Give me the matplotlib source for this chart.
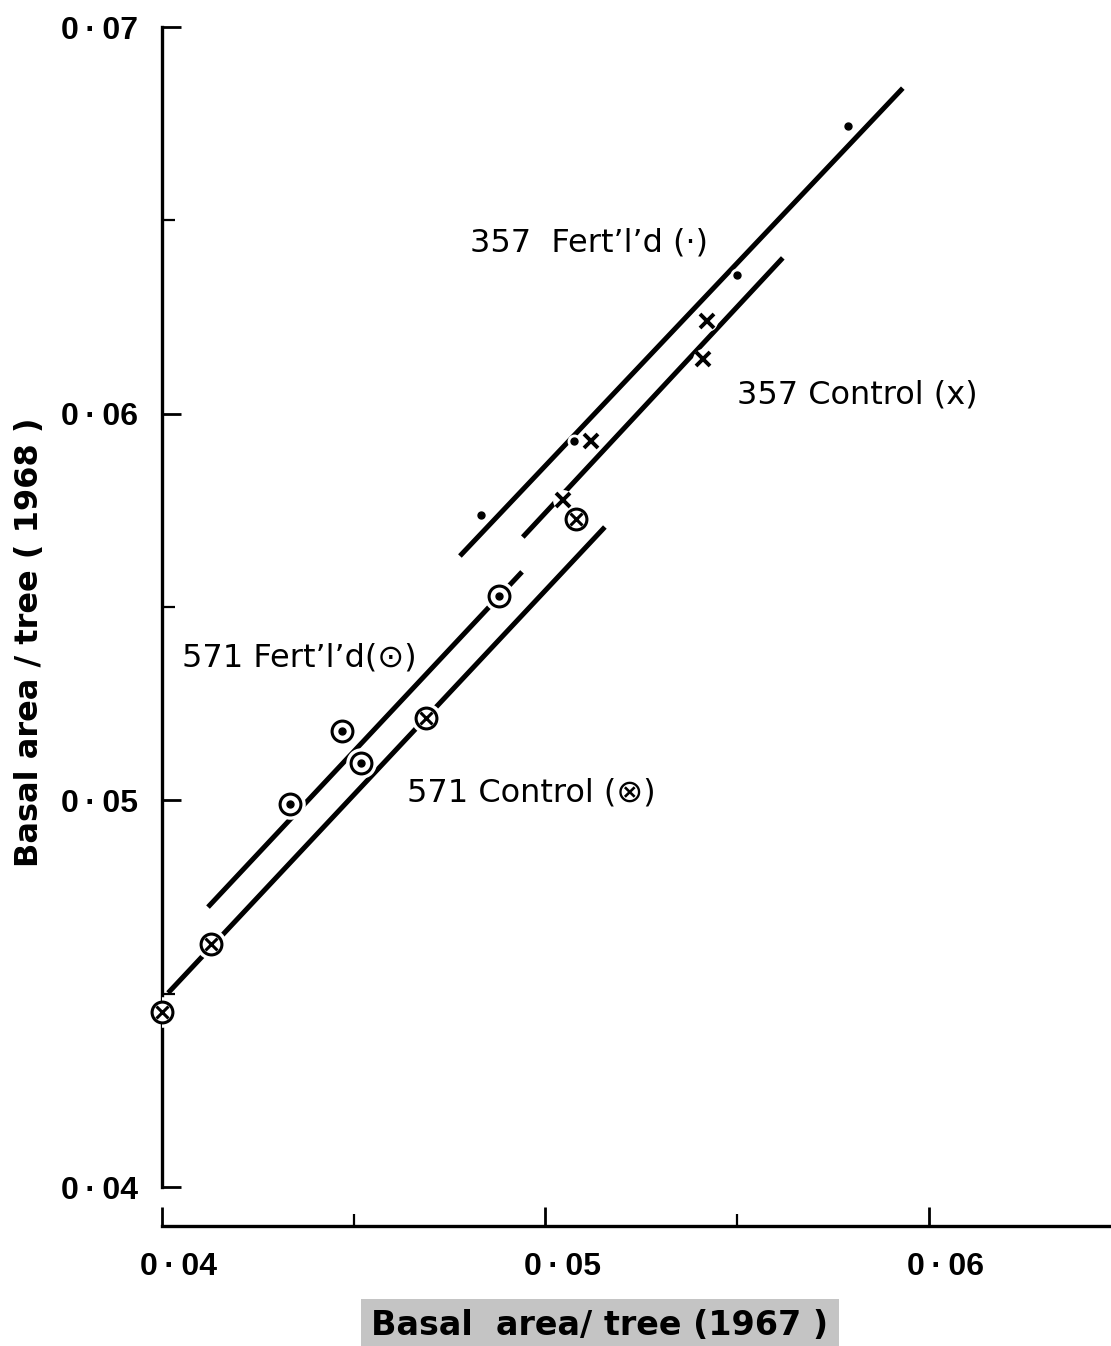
import numpy as np
import matplotlib
matplotlib.use("Agg")
import matplotlib.pyplot as plt
from matplotlib.ticker import FixedLocator, FuncFormatter
from matplotlib.transforms import ScaledTranslation

plt.rcParams['font.family'] = ['Liberation Sans', 'DejaVu Sans']

# basal area per tree, 1967 (x) vs 1968 (y)
fert357_x = [0.04832, 0.05074, 0.05499, 0.05789]
fert357_y = [0.05738, 0.05929, 0.06359, 0.06744]

ctrl357_x = [0.05046, 0.05119, 0.05411, 0.05421]
ctrl357_y = [0.05777, 0.05929, 0.06141, 0.06240]

fert571_x = [0.04334, 0.04469, 0.04519, 0.04879]
fert571_y = [0.04991, 0.05179, 0.05097, 0.05528]

ctrl571_x = [0.04000, 0.04128, 0.04688, 0.05080]
ctrl571_y = [0.04453, 0.04628, 0.05213, 0.05728]

# fitted regression lines (end points)
fit357f_x = [0.04777, 0.05932]
fit357f_y = [0.05632, 0.06842]
fit357c_x = [0.04941, 0.05619]
fit357c_y = [0.05681, 0.06403]
fit571f_x = [0.04120, 0.04939]
fit571f_y = [0.04724, 0.05591]
fit571c_x = [0.04016, 0.05155]
fit571c_y = [0.04502, 0.05707]

fig = plt.figure(figsize=(11.11, 13.46), dpi=100)
ax = fig.add_axes([0.1458, 0.1181, 0.8542, 0.8618])
ax.set_xlim(0.04, 0.06475)
ax.set_ylim(0.04, 0.07)

lw = 3.6
for fx, fy in [(fit357f_x, fit357f_y), (fit357c_x, fit357c_y),
               (fit571f_x, fit571f_y), (fit571c_x, fit571c_y)]:
    ax.plot(fx, fy, color='black', lw=lw, solid_capstyle='butt', zorder=2)

# white halos so the lines break around the symbols
ax.plot(fert357_x, fert357_y, 'o', ms=10, mfc='white', mec='none', zorder=3)
ax.plot(ctrl357_x, ctrl357_y, 'o', ms=15, mfc='white', mec='none', zorder=3)
ax.plot(fert571_x, fert571_y, 'o', ms=22, mfc='white', mec='none', zorder=3)
ax.plot(ctrl571_x, ctrl571_y, 'o', ms=22, mfc='white', mec='none', zorder=3)

# symbols
ax.plot(fert357_x, fert357_y, 'o', ms=5, color='black', zorder=4, clip_on=False)
ax.plot(ctrl357_x, ctrl357_y, 'x', ms=10, mew=2.8, color='black', zorder=4, clip_on=False)
ax.plot(fert571_x, fert571_y, 'o', ms=15, mfc='white', mec='black', mew=2.2, zorder=4, clip_on=False)
ax.plot(fert571_x, fert571_y, 'o', ms=5, color='black', zorder=5, clip_on=False)
ax.plot(ctrl571_x, ctrl571_y, 'o', ms=15, mfc='white', mec='black', mew=2.2, zorder=4, clip_on=False)
ax.plot(ctrl571_x, ctrl571_y, 'x', ms=8, mew=2.2, color='black', zorder=5, clip_on=False)

# group labels
txt = dict(fontsize=23, color='black', ha='left', va='center',
           family=['DejaVu Sans'])
ax.text(0.04803, 0.06441, "357  Fert\u2019l\u2019d (\u00b7)", **txt)
ax.text(0.05499, 0.06048, "357 Control (x)", **txt)
ax.text(0.04052, 0.05368, "571 Fert\u2019l\u2019d(\u2299)", **txt)
ax.text(0.04639, 0.05019, "571 Control (\u2297)", **txt)

# axes styling
for s in ['top', 'right']:
    ax.spines[s].set_visible(False)
ax.spines['left'].set_linewidth(2.4)
ax.spines['bottom'].set_linewidth(2.4)
ax.spines['bottom'].set_position(('outward', 28))

ax.xaxis.set_major_locator(FixedLocator([0.04, 0.05, 0.06]))
ax.xaxis.set_minor_locator(FixedLocator([0.045, 0.055]))
ax.yaxis.set_major_locator(FixedLocator([0.04, 0.05, 0.06, 0.07]))
ax.yaxis.set_minor_locator(FixedLocator([0.045, 0.055, 0.065]))

fmt = FuncFormatter(lambda v, p: ("%.2f" % v).replace('.', '\u2009\u00b7\u2009'))
ax.xaxis.set_major_formatter(fmt)
ax.yaxis.set_major_formatter(fmt)

ax.tick_params(which='major', direction='in', length=14, width=2.0, pad=19,
               labelsize=23)
ax.tick_params(axis='y', which='major', pad=17)
ax.tick_params(which='minor', direction='in', length=9, width=1.6)
for lab in ax.get_xticklabels() + ax.get_yticklabels():
    lab.set_fontweight('bold')
# x tick labels sit a little right of their ticks
shift = ScaledTranslation(0.17, 0, fig.dpi_scale_trans)
for lab in ax.get_xticklabels():
    lab.set_transform(lab.get_transform() + shift)

fig.text(0.027, 0.523, "Basal area / tree ( 1968 )", rotation=90,
         ha='center', va='center', fontsize=23, fontweight='bold',
         family=['DejaVu Sans'])
fig.text(0.540, 0.0156, "Basal  area/ tree (1967 )", ha='center', va='center',
         fontsize=24, fontweight='bold', family=['DejaVu Sans'],
         bbox=dict(boxstyle='square,pad=0.3', facecolor='#c4c4c4', edgecolor='none'))

fig.savefig('out.png', dpi=100)
